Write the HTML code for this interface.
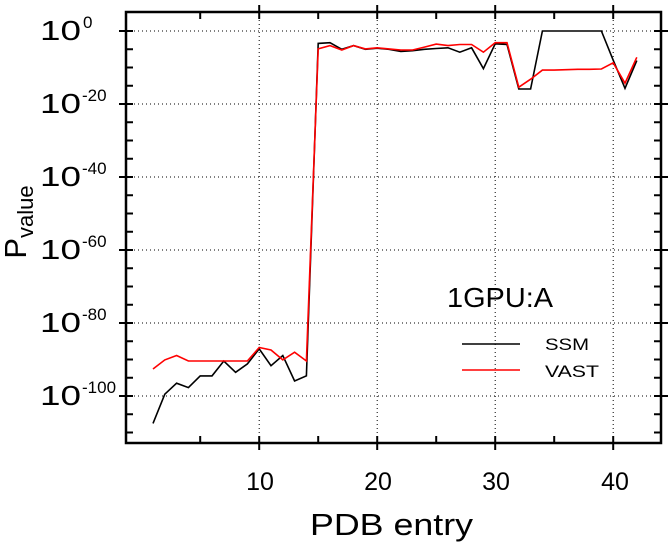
<!DOCTYPE html>
<html><head><meta charset="utf-8"><style>
html,body{margin:0;padding:0;background:#fff;}
svg{display:block;font-family:"Liberation Sans",Arial,sans-serif;}
</style></head><body>
<svg id="s" width="670" height="555" viewBox="0 0 670 555" xmlns="http://www.w3.org/2000/svg">
<g id="grid" stroke="#000" stroke-width="1" stroke-dasharray="1,3"></g>
<g id="ticks" stroke="#000" stroke-width="2"></g>
<rect x="126" y="12" width="535" height="431" fill="none" stroke="#000" stroke-width="2.5"/>
<polyline id="ssm" fill="none" stroke="#000" stroke-width="1.6"/>
<polyline id="vast" fill="none" stroke="#f00" stroke-width="1.6"/>
<g font-size="28">
<text x="40" y="40" textLength="41" lengthAdjust="spacingAndGlyphs">10</text>
<text x="40" y="113" textLength="41" lengthAdjust="spacingAndGlyphs">10</text>
<text x="40" y="186" textLength="41" lengthAdjust="spacingAndGlyphs">10</text>
<text x="40" y="259" textLength="41" lengthAdjust="spacingAndGlyphs">10</text>
<text x="40" y="332" textLength="41" lengthAdjust="spacingAndGlyphs">10</text>
<text x="40" y="405" textLength="41" lengthAdjust="spacingAndGlyphs">10</text>
</g>
<g font-size="17">
<text x="83" y="28">0</text>
<text x="82" y="101">-20</text>
<text x="82" y="174">-40</text>
<text x="82" y="247">-60</text>
<text x="82" y="320">-80</text>
<text x="82" y="393">-100</text>
</g>
<g font-size="25" text-anchor="middle">
<text x="260" y="490">10</text><text x="378" y="490">20</text>
<text x="496" y="490">30</text><text x="615" y="490">40</text>
</g>
<text x="310" y="535" font-size="31" textLength="163" lengthAdjust="spacingAndGlyphs">PDB entry</text>
<text transform="translate(26,222) rotate(-90)" font-size="31" text-anchor="middle">P<tspan font-size="22" dy="7">value</tspan></text>
<text x="447" y="307" font-size="28" textLength="106" lengthAdjust="spacingAndGlyphs">1GPU:A</text>
<line x1="462" y1="344" x2="520" y2="344" stroke="#000" stroke-width="1.6"/>
<line x1="462" y1="370" x2="520" y2="370" stroke="#f00" stroke-width="1.6"/>
<text x="545" y="350" font-size="17" textLength="44" lengthAdjust="spacingAndGlyphs">SSM</text>
<text x="545" y="377" font-size="17" textLength="54" lengthAdjust="spacingAndGlyphs">VAST</text>
</svg>
<script>
var X=function(i){return 153+(i-1)*11.8;}, Y=function(e){return 31-3.65*e;};
var ssm=[-107.5,-99.5,-96.5,-97.7,-94.5,-94.5,-90.4,-93.5,-91.2,-87.1,-91.7,-88.9,-95.9,-94.5,-3.4,-3.2,-5,-4,-5,-4.7,-5,-5.6,-5.4,-5,-4.8,-4.6,-5.8,-4.6,-10.3,-3.5,-3.7,-15.9,-15.9,0,0,0,0,0,0,-8,-15.7,-8.1];
var vast=[-92.6,-90.1,-88.9,-90.4,-90.4,-90.4,-90.4,-90.4,-90.4,-86.7,-87.4,-90.1,-88,-90.4,-4.9,-4,-5.2,-4,-4.9,-4.6,-4.9,-5.2,-5.2,-4.4,-3.6,-4,-3.7,-3.7,-5.8,-3.2,-3.2,-15.4,-13.2,-10.7,-10.7,-10.6,-10.5,-10.5,-10.4,-8.7,-14.3,-7.2];
function pts(a){return a.map(function(e,i){return X(i+1).toFixed(1)+","+Y(e).toFixed(1);}).join(" ");}
document.getElementById("ssm").setAttribute("points",pts(ssm));
document.getElementById("vast").setAttribute("points",pts(vast));
var g=document.getElementById("grid"),t=document.getElementById("ticks"),ns="http://www.w3.org/2000/svg";
function L(p,a,b,c,d){var l=document.createElementNS(ns,"line");l.setAttribute("x1",a);l.setAttribute("y1",b);l.setAttribute("x2",c);l.setAttribute("y2",d);p.appendChild(l);}
for(var e=0;e>=-100;e-=20){var y=Y(e);L(g,126,y,661,y);L(t,119,y,133,y);L(t,654,y,668,y);}
for(var e=0;e>=-110;e-=5){if(e%20==0)continue;var y=Y(e);L(t,126,y,133,y);L(t,654,y,661,y);}
for(var i=10;i<=40;i+=10){var x=X(i+1)-11.8;L(g,x,12,x,443);L(t,x,5,x,19);L(t,x,436,x,450);}
for(var i=5;i<=35;i+=10){var x=X(i+1)-11.8;L(t,x,12,x,19);L(t,x,436,x,443);}
</script>
</body></html>
